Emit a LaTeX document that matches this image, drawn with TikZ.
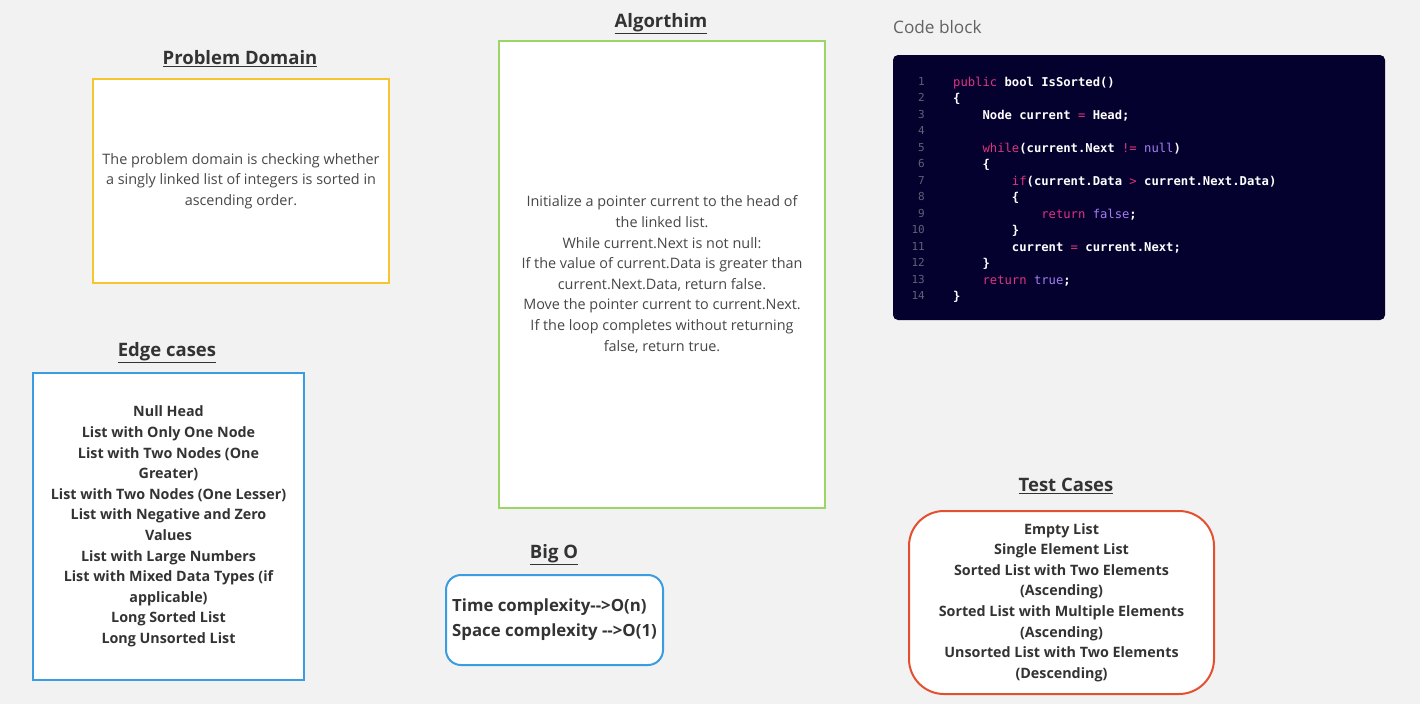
\documentclass[tikz,border=0pt]{standalone}
\usepackage{fontspec}
\setmainfont{Open Sans}
\setmonofont{DejaVu Sans Mono}
\usepackage{xcolor}
\usetikzlibrary{positioning}

\definecolor{bgcol}{HTML}{F2F2F2}
\definecolor{titlecol}{HTML}{333333}
\definecolor{textcol}{HTML}{474747}
\definecolor{yellowcol}{HTML}{F5C62F}
\definecolor{bluecol}{HTML}{3B9DE1}
\definecolor{greencol}{HTML}{9DD466}
\definecolor{redcol}{HTML}{E4502F}
\definecolor{codebg}{HTML}{04012F}
\definecolor{codekw}{HTML}{E0337F}
\definecolor{codelit}{HTML}{A57DF2}
\definecolor{codenum}{HTML}{6E6E85}

\newcommand{\kw}[1]{\textcolor{codekw}{\mdseries #1}}
\newcommand{\lit}[1]{\textcolor{codelit}{\mdseries #1}}
\newcommand{\ind}{\phantom{xxxx}}

\begin{document}
\begin{tikzpicture}[x=1pt, y=-1pt,
    heading/.style={font=\fontsize{18.5}{22}\selectfont\bfseries, text=titlecol},
    panel/.style={rectangle, draw, line width=2pt, fill=white, align=center, inner sep=2pt,
        font=\fontsize{14.4}{20.6}\selectfont, text=textcol},
    listpanel/.style={panel, font=\fontsize{14.3}{20.6}\selectfont\bfseries, text=titlecol}
]
\useasboundingbox[fill=bgcol] (0,0) rectangle (1420,704);

% problem domain
\node[heading] (pdtitle) at (240,59) {\underline{Problem Domain}};
\node[panel, draw=yellowcol, minimum width=296, minimum height=204] (pd) at (241,181)
    {The problem domain is checking whether\\a singly linked list of integers is sorted in\\ascending order.};

% edge cases
\node[heading] (ectitle) at (167,353) {\underline{Edge cases}};
\node[listpanel, draw=bluecol, minimum width=271, minimum height=307] (ec) at (168.5,526.5)
    {Null Head\\List with Only One Node\\List with Two Nodes (One\\Greater)\\List with Two Nodes (One Lesser)\\List with Negative and Zero\\Values\\List with Large Numbers\\List with Mixed Data Types (if\\applicable)\\Long Sorted List\\Long Unsorted List};

% algorithm
\node[heading] (altitle) at (661,24) {\underline{Algorthim}};
\node[panel, draw=greencol, minimum width=326, minimum height=467] (al) at (662,274.5)
    {Initialize a pointer current to the head of\\the linked list.\\While current.Next is not null:\\If the value of current.Data is greater than\\current.Next.Data, return false.\\Move the pointer current to current.Next.\\If the loop completes without returning\\false, return true.};

% big o
\node[heading] (botitle) at (554,555) {\underline{Big O}};
\node[panel, draw=bluecol, rounded corners=15pt, minimum width=217, minimum height=90, align=left,
    font=\fontsize{16.8}{25}\selectfont\bfseries, text=titlecol] (bo) at (554.5,620)
    {Time complexity-{}->O(n)\\Space complexity -{}->O(1)};

% test cases
\node[heading] (tctitle) at (1066,486) {\underline{Test Cases}};
\node[listpanel, draw=redcol, rounded corners=35pt, minimum width=305, minimum height=183] (tc) at (1061.5,602.5)
    {Empty List\\Single Element List\\Sorted List with Two Elements\\(Ascending)\\Sorted List with Multiple Elements\\(Ascending)\\Unsorted List with Two Elements\\(Descending)};

% code block
\node[anchor=west, inner sep=0pt, font=\fontsize{17.2}{20}\selectfont, text=textcol!85] (cbtitle) at (893,27) {Code block};
\node[rectangle, fill=codebg, rounded corners=5pt, minimum width=492, minimum height=265] (cb) at (1139,187.5) {};
\node[anchor=north east, align=right, inner sep=0pt, text=codenum!110,
    font=\ttfamily\fontsize{11}{16.5}\selectfont] (lnums) at (925,77)
    {1\\2\\3\\4\\5\\6\\7\\8\\9\\10\\11\\12\\13\\14};
\node[anchor=north west, align=left, inner sep=0pt, text=white,
    font=\ttfamily\bfseries\fontsize{12.2}{16.5}\selectfont] (code) at (953,76.5)
    {\kw{public} bool IsSorted()\\
     \{\\
     \ind Node current \kw{=} Head;\\
     \strut\\
     \ind\kw{while}(current.Next \kw{!=} \lit{null})\\
     \ind\{\\
     \ind\ind\kw{if}(current.Data \kw{>} current.Next.Data)\\
     \ind\ind\{\\
     \ind\ind\ind\kw{return} \lit{false};\\
     \ind\ind\}\\
     \ind\ind current \kw{=} current.Next;\\
     \ind\}\\
     \ind\kw{return} \lit{true};\\
     \}};
\end{tikzpicture}
\end{document}
